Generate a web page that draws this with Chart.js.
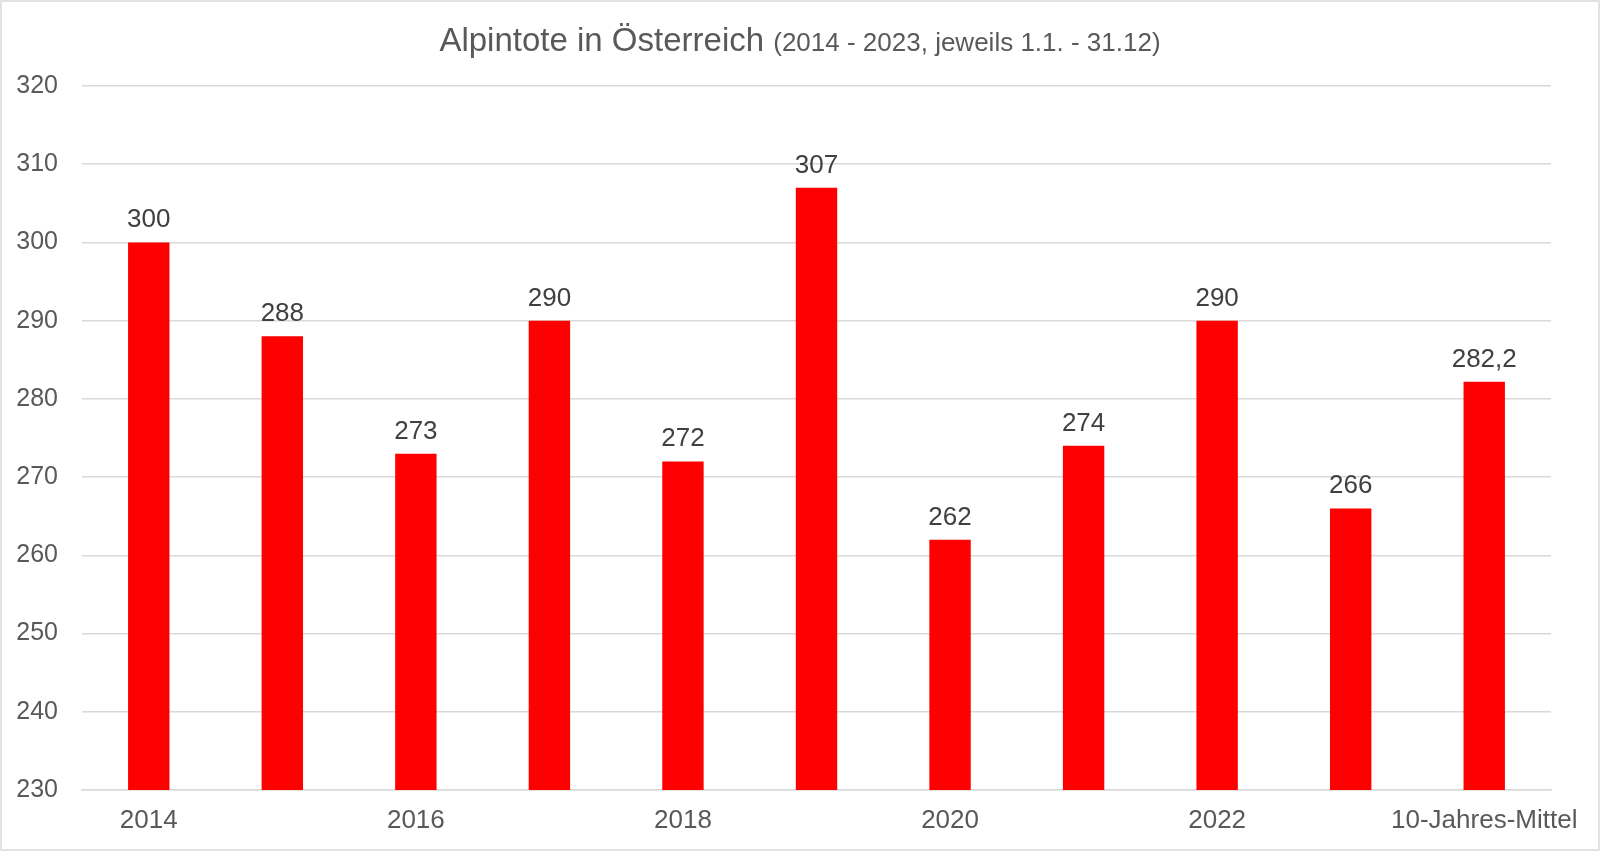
<!DOCTYPE html>
<html>
<head>
<meta charset="utf-8">
<script src="https://cdn.jsdelivr.net/npm/chart.js@4/dist/chart.umd.min.js"></script>
<style>
  html, body { margin: 0; padding: 0; background: #fff; }
  #wrap { width: 1600px; height: 851px; position: relative; }
</style>
</head>
<body>
<div id="wrap"><canvas id="myChart" width="1600" height="851"></canvas></div>
<script>
const kategorien = ['2014', '2015', '2016', '2017', '2018', '2019', '2020', '2021', '2022', '2023', '10-Jahres-Mittel'];
const alpintote = [300, 288, 273, 290, 272, 307, 262, 274, 290, 266, 282.2];
const titel = 'Alpintote in Österreich';
const untertitel = '(2014 - 2023, jeweils 1.1. - 31.12)';

const schrift = '"Liberation Sans", Arial, sans-serif';

// Rahmen und Titel (zwei Schriftgrößen in einer Zeile)
const rahmenTitel = {
  id: 'rahmenTitel',
  beforeDraw(chart) {
    const c = chart.ctx;
    c.save();
    c.fillStyle = '#ffffff';
    c.fillRect(0, 0, chart.width, chart.height);
    c.strokeStyle = '#d9d9d9';
    c.lineWidth = 1.5;
    c.strokeRect(1, 1, chart.width - 2, chart.height - 2);
    c.restore();
  },
  afterDraw(chart) {
    const c = chart.ctx;
    c.save();
    c.fillStyle = '#595959';
    c.textBaseline = 'alphabetic';
    c.font = '33px ' + schrift;
    const w1 = c.measureText(titel + ' ').width;
    c.font = '26px ' + schrift;
    const w2 = c.measureText(untertitel).width;
    let x = chart.width / 2 - (w1 + w2) / 2;
    c.textAlign = 'left';
    c.font = '33px ' + schrift;
    c.fillText(titel + ' ', x, 51);
    c.font = '26px ' + schrift;
    c.fillText(untertitel, x + w1, 51);
    c.restore();
  }
};

// Werte über den Balken
const werteOben = {
  id: 'werteOben',
  afterDatasetsDraw(chart) {
    const c = chart.ctx;
    const meta = chart.getDatasetMeta(0);
    c.save();
    c.fillStyle = '#404040';
    c.font = '26px ' + schrift;
    c.textAlign = 'center';
    c.textBaseline = 'alphabetic';
    meta.data.forEach((bar, i) => {
      const txt = String(alpintote[i]).replace('.', ',');
      c.fillText(txt, bar.x, bar.y - 15);
    });
    c.restore();
  }
};

const ctx = document.getElementById('myChart');

new Chart(ctx, {
  type: 'bar',
  data: {
    labels: kategorien,
    datasets: [{
      data: alpintote,
      backgroundColor: '#ff0000',
      borderWidth: 0,
      categoryPercentage: 1,
      barPercentage: 0.31
    }]
  },
  options: {
    responsive: false,
    animation: false,
    layout: { padding: { top: 86, right: 49, left: 0, bottom: 0 } },
    plugins: {
      legend: { display: false },
      title: { display: false },
      tooltip: { enabled: false }
    },
    scales: {
      y: {
        min: 230,
        max: 320,
        ticks: {
          stepSize: 10,
          padding: 24,
          color: '#595959',
          font: { family: schrift, size: 25 }
        },
        grid: { color: '#d9d9d9', lineWidth: 1.5, drawTicks: false },
        border: { display: false },
        afterFit(scale) { scale.width = 82; }
      },
      x: {
        ticks: {
          autoSkip: false,
          maxRotation: 0,
          padding: 15,
          color: '#595959',
          font: { family: schrift, size: 26 },
          callback(value, index) {
            return index % 2 === 0 ? kategorien[index] : '';
          }
        },
        grid: { display: false, drawTicks: false },
        border: { display: true, color: '#d9d9d9', width: 1.5 },
        afterFit(scale) { scale.height = 61; }
      }
    }
  },
  plugins: [rahmenTitel, werteOben]
});
</script>
</body>
</html>
